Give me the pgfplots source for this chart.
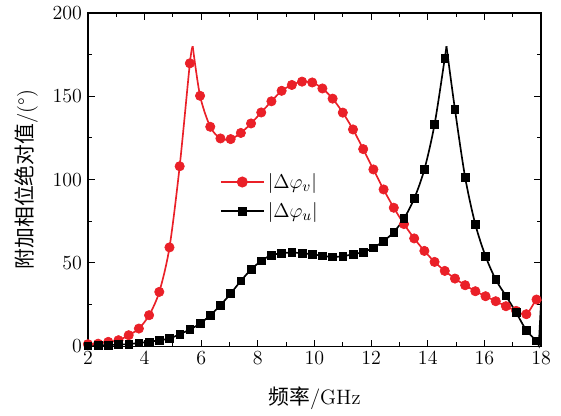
\documentclass[border=0pt]{standalone}
\usepackage{fontspec}
\newfontfamily\cjk{Noto Sans CJK SC}
\usepackage{pgfplots}
\pgfplotsset{compat=1.18}
\usepackage{pgfplotstable}
\definecolor{myred}{RGB}{234,32,40}

\pgfplotstableread{
x y
2.00 1.2
2.36 1.5
2.72 2.6
3.08 3.6
3.44 6.6
3.80 10.6
4.16 18.6
4.52 32.6
4.88 59.3
5.24 108
5.60 169.8
5.96 150.3
6.32 131.7
6.68 124.7
7.04 124.3
7.40 128
7.76 133.7
8.12 140.3
8.48 147
8.84 153.3
9.20 156.8
9.56 158.8
9.92 158.3
10.28 154.7
10.64 148.6
11.00 140.2
11.36 130.1
11.72 118.3
12.08 106.1
12.44 94.1
12.80 83.1
13.16 73.3
13.52 64.7
13.88 57.2
14.24 50.6
14.60 45.2
14.96 40.6
15.32 36.6
15.68 33.0
16.04 30.0
16.40 27.0
16.76 24.0
17.12 21.2
17.48 19.2
17.84 28.0
}\redmarks

\pgfplotstableread{
x y
2.00 1.2
2.36 1.5
2.72 2.6
3.08 3.6
3.44 6.6
3.80 10.6
4.16 18.6
4.52 32.6
4.88 59.3
5.24 108
5.60 169.8
5.70 180
5.96 150.3
6.32 131.7
6.68 124.7
7.04 124.3
7.40 128
7.76 133.7
8.12 140.3
8.48 147
8.84 153.3
9.20 156.8
9.56 158.8
9.92 158.3
10.28 154.7
10.64 148.6
11.00 140.2
11.36 130.1
11.72 118.3
12.08 106.1
12.44 94.1
12.80 83.1
13.16 73.3
13.52 64.7
13.88 57.2
14.24 50.6
14.60 45.2
14.96 40.6
15.32 36.6
15.68 33.0
16.04 30.0
16.40 27.0
16.76 24.0
17.12 21.2
17.48 19.2
17.84 28.0
18.00 27.0
}\redline

\pgfplotstableread{
x y
2.00 0.3
2.36 0.5
2.72 0.6
3.08 1.0
3.44 1.2
3.80 2.0
4.16 2.6
4.52 3.6
4.88 4.6
5.24 7.2
5.60 10.0
5.96 13.6
6.32 18.6
6.68 24.6
7.04 31.6
7.40 39.2
7.76 46.0
8.12 51.2
8.48 54.7
8.84 55.7
9.20 56.3
9.56 55.7
9.92 55.2
10.28 54.2
10.64 53.6
11.00 54.0
11.36 55.2
11.72 56.5
12.08 59.1
12.44 63.1
12.80 68.5
13.16 76.6
13.52 88.6
13.88 106.1
14.24 133.2
14.60 172.8
14.96 142.1
15.32 101.3
15.68 73.1
16.04 54.0
16.40 40.0
16.76 30.2
17.12 20.2
17.48 9.6
17.84 3.2
}\blackmarks

\pgfplotstableread{
x y
2.00 0.3
2.36 0.5
2.72 0.6
3.08 1.0
3.44 1.2
3.80 2.0
4.16 2.6
4.52 3.6
4.88 4.6
5.24 7.2
5.60 10.0
5.96 13.6
6.32 18.6
6.68 24.6
7.04 31.6
7.40 39.2
7.76 46.0
8.12 51.2
8.48 54.7
8.84 55.7
9.20 56.3
9.56 55.7
9.92 55.2
10.28 54.2
10.64 53.6
11.00 54.0
11.36 55.2
11.72 56.5
12.08 59.1
12.44 63.1
12.80 68.5
13.16 76.6
13.52 88.6
13.88 106.1
14.24 133.2
14.60 172.8
14.66 180.0
14.96 142.1
15.32 101.3
15.68 73.1
16.04 54.0
16.40 40.0
16.76 30.2
17.12 20.2
17.48 9.6
17.84 3.2
17.92 0.5
18.00 27.0
}\blackline

\begin{document}
\begin{tikzpicture}
\begin{axis}[
  scale only axis,
  width=272pt, height=200pt,
  xmin=2, xmax=18, ymin=0, ymax=200,
  xtick={2,4,...,18}, ytick={0,50,...,200},
  minor x tick num=1, minor y tick num=1,
  tick align=inside, xtick pos=both, ytick pos=both,
  major tick length=4pt, minor tick length=2.5pt,
  axis line style={line width=0.8pt},
  every tick/.style={black, line width=0.6pt},
  tick label style={font=\fontsize{12.5}{15}\selectfont},
  label style={font=\fontsize{12.5}{15}\selectfont},
  xlabel={{\cjk 频率}/GHz},
  ylabel={{\cjk 附加相位绝对值}/(\textdegree)},
  xlabel style={yshift=-6.5pt},
  ylabel style={yshift=2pt},
  clip=false,
  legend cell align=left,
  legend style={at={(0.28,0.54)}, anchor=north west, draw=none, fill=none, row sep=3pt,
    font=\fontsize{12.5}{15}\selectfont},
  legend image code/.code={\draw[mark repeat=2,mark phase=2,#1] plot coordinates {(0cm,0cm) (0.45cm,0cm) (0.9cm,0cm)};},
]
\path (rel axis cs:-0.194,-0.192) rectangle (rel axis cs:1.044,1.039);

\addplot[myred, line width=1pt, smooth, forget plot, restrict x to domain=2:5.70] table {\redline};
\addplot[myred, line width=1pt, smooth, forget plot, restrict x to domain=5.70:18] table {\redline};
\addplot[myred, only marks, mark=*, mark size=2.8pt, forget plot] table {\redmarks};

\addplot[black, line width=1pt, smooth, forget plot, restrict x to domain=2:14.66] table {\blackline};
\addplot[black, line width=1pt, smooth, forget plot, restrict x to domain=14.66:17.84] table {\blackline};
\addplot[black, line width=1pt, forget plot, restrict x to domain=17.84:18] table {\blackline};
\addplot[black, only marks, mark=square*, mark size=2.3pt, forget plot] table {\blackmarks};

\addlegendimage{myred, line width=1pt, mark=*, mark size=2.8pt}
\addlegendentry{$|\Delta\varphi_v|$}
\addlegendimage{black, line width=1pt, mark=square*, mark size=2.3pt}
\addlegendentry{$|\Delta\varphi_u|$}
\end{axis}
\end{tikzpicture}
\end{document}
